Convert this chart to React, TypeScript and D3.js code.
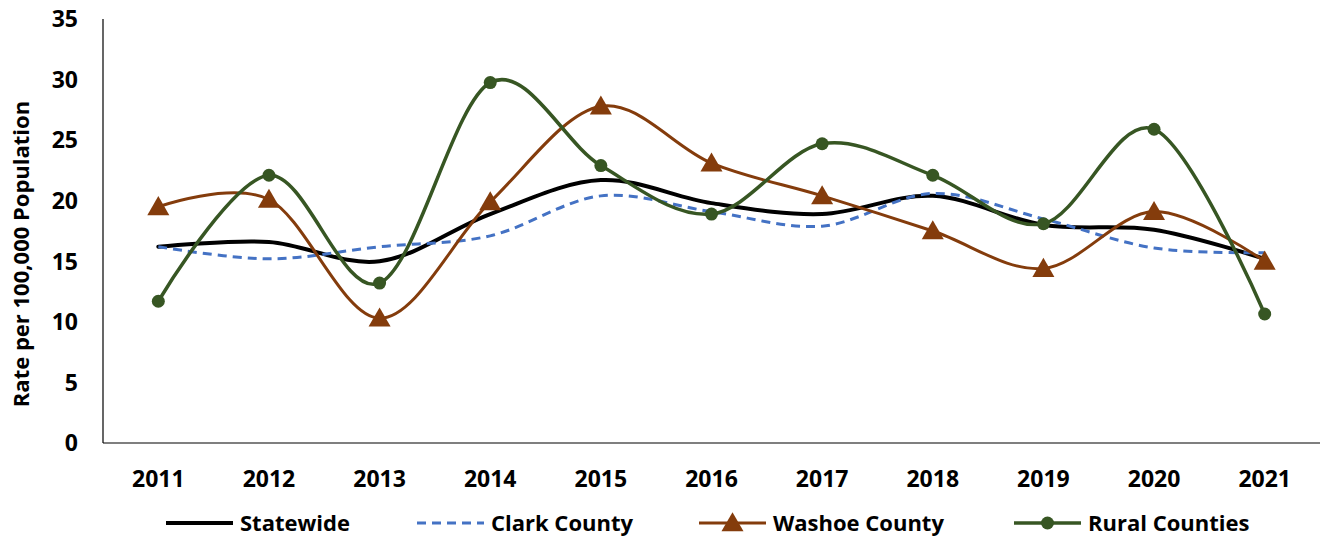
import React, { useEffect, useRef } from "react";
import * as d3 from "d3";

const years = ["2011", "2012", "2013", "2014", "2015", "2016", "2017", "2018", "2019", "2020", "2021"];
const statewide = [16.2, 16.6, 15.0, 18.9, 21.7, 19.8, 18.9, 20.4, 18.0, 17.6, 15.2];
const clark = [16.2, 15.2, 16.2, 17.1, 20.4, 19.1, 17.9, 20.6, 18.5, 16.1, 15.7];
const washoe = [19.5, 20.1, 10.3, 19.9, 27.8, 23.1, 20.4, 17.5, 14.4, 19.1, 15.0];
const rural = [11.7, 22.1, 13.2, 29.75, 22.9, 18.9, 24.7, 22.1, 18.1, 25.9, 10.65];
const yTicks = [0, 5, 10, 15, 20, 25, 30, 35];

const FONT = "'Open Sans', 'DejaVu Sans', sans-serif";

const series = [
  { name: "Statewide", values: statewide, color: "#000000", width: 4, dash: null, marker: "none" },
  { name: "Clark County", values: clark, color: "#4472C4", width: 3, dash: "9,6", marker: "none" },
  { name: "Washoe County", values: washoe, color: "#843C0C", width: 3, dash: null, marker: "triangle" },
  { name: "Rural Counties", values: rural, color: "#375623", width: 3.5, dash: null, marker: "circle" },
];

const legendX = [166, 417, 699, 1014];

function App() {
  const ref = useRef(null);

  useEffect(() => {
    const svg = d3.select(ref.current);
    svg.selectAll("*").remove();

    const left = 103, right = 1320, top = 19, bottom = 443;
    const x = d3.scaleBand().domain(years).range([left, right]);
    const y = d3.scaleLinear().domain([0, 35]).range([bottom, top]);
    const cx = (d) => x(d) + x.bandwidth() / 2;

    // axes
    svg.append("line").attr("x1", left).attr("x2", left).attr("y1", top).attr("y2", bottom)
      .attr("stroke", "#000").attr("stroke-width", 1.2);
    svg.append("line").attr("x1", left).attr("x2", right).attr("y1", bottom).attr("y2", bottom)
      .attr("stroke", "#000").attr("stroke-width", 1.2);

    svg.selectAll(".ytick").data(yTicks).enter().append("text")
      .attr("x", 78).attr("y", (d) => y(d)).attr("dy", "0.36em")
      .attr("text-anchor", "end").attr("font-family", FONT).attr("font-weight", "bold")
      .attr("font-size", 23).attr("fill", "#000").text((d) => d);

    svg.selectAll(".xtick").data(years).enter().append("text")
      .attr("x", (d) => cx(d)).attr("y", 479).attr("dy", "0.36em")
      .attr("text-anchor", "middle").attr("font-family", FONT).attr("font-weight", "bold")
      .attr("font-size", 23).attr("fill", "#000").text((d) => d);

    svg.append("text")
      .attr("transform", "translate(21,254) rotate(-90)")
      .attr("dy", "0.36em").attr("text-anchor", "middle")
      .attr("font-family", FONT).attr("font-weight", "bold").attr("font-size", 22)
      .text("Rate per 100,000 Population");

    const line = d3.line().curve(d3.curveCardinal.tension(0))
      .x((d, i) => cx(years[i])).y((d) => y(d));

    const tri = d3.symbol().type(d3.symbolTriangle).size(210);

    const drawMarker = (g, s, px, py) => {
      if (s.marker === "triangle") {
        g.append("path").attr("d", tri()).attr("transform", `translate(${px},${py + 2})`)
          .attr("fill", s.color);
      } else if (s.marker === "circle") {
        g.append("circle").attr("cx", px).attr("cy", py).attr("r", 6.5).attr("fill", s.color);
      }
    };

    series.forEach((s) => {
      const g = svg.append("g");
      g.append("path").datum(s.values).attr("d", line).attr("fill", "none")
        .attr("stroke", s.color).attr("stroke-width", s.width)
        .attr("stroke-dasharray", s.dash).attr("stroke-linecap", s.dash ? "butt" : "round");
      s.values.forEach((v, i) => drawMarker(g, s, cx(years[i]), y(v)));
    });

    // legend
    series.forEach((s, i) => {
      const g = svg.append("g");
      const lx = legendX[i], ly = 523;
      g.append("line").attr("x1", lx).attr("x2", lx + 67).attr("y1", ly).attr("y2", ly)
        .attr("stroke", s.color).attr("stroke-width", s.width)
        .attr("stroke-dasharray", s.dash);
      drawMarker(g, s, lx + 33.5, ly);
      g.append("text").attr("x", lx + 74).attr("y", ly).attr("dy", "0.36em")
        .attr("font-family", FONT).attr("font-weight", "bold").attr("font-size", 22)
        .text(s.name);
    });
  }, []);

  return (
    <div>
      <svg ref={ref} width="1322" height="539"
        style={{ position: "absolute", left: 0, top: 0, background: "#fff" }}></svg>
    </div>
  );
}

export default App;
